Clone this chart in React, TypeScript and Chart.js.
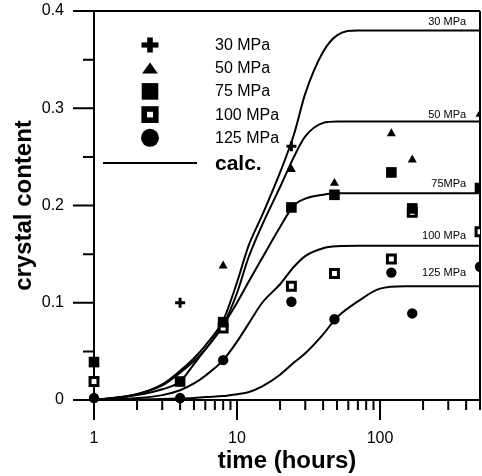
import React, { useEffect, useRef } from 'react';
import { Chart, registerables } from 'chart.js';

Chart.register(...registerables);

const FONT = '"Liberation Sans", Arial, Helvetica, sans-serif';

// ---- calculated curves (time in hours, crystal content) ----
const curveTimes = [1, 2, 3, 4, 5, 6, 8, 10, 12, 15, 20, 25, 30, 40, 50, 70, 100, 150, 200, 300, 500];
const calc30 = [0, 0.006, 0.016, 0.03, 0.043, 0.056, 0.082, 0.121, 0.158, 0.19, 0.234, 0.273, 0.315, 0.358, 0.375, 0.38, 0.38, 0.38, 0.38, 0.38, 0.38];
const calc50 = [0, 0.006, 0.015, 0.028, 0.04, 0.052, 0.077, 0.11, 0.146, 0.18, 0.219, 0.25, 0.271, 0.285, 0.2865, 0.2865, 0.2865, 0.2865, 0.2865, 0.2865, 0.2865];
const calc75 = [0, 0.005, 0.011, 0.019, 0.037, 0.052, 0.077, 0.1, 0.121, 0.146, 0.178, 0.2, 0.207, 0.211, 0.2125, 0.2125, 0.2125, 0.2125, 0.2125, 0.2125, 0.2125];
const calc100 = [0, 0.002, 0.005, 0.01, 0.017, 0.025, 0.041, 0.06, 0.078, 0.1, 0.119, 0.137, 0.148, 0.156, 0.158, 0.1585, 0.1585, 0.1585, 0.1585, 0.1585, 0.1585];
const calc125 = [0, 0.0005, 0.001, 0.0015, 0.002, 0.003, 0.004, 0.006, 0.008, 0.014, 0.026, 0.0385, 0.048, 0.0675, 0.085, 0.1014, 0.1145, 0.117, 0.117, 0.117, 0.117];

const curveLabels = ['30 MPa', '50 MPa', '75MPa', '100 MPa', '125 MPa'];
const curveLabelValues = [0.389, 0.293, 0.222, 0.169, 0.131];
const curveLabelTime = 400;

// ---- measured points ----
const t30 = [4, 24];
const v30 = [0.1, 0.261];
const t50 = [1, 8, 24, 48, 120, 168, 500];
const v50 = [0.004, 0.138, 0.237, 0.223, 0.274, 0.247, 0.294];
const t75 = [1, 4, 8, 24, 48, 120, 168, 500];
const v75 = [0.039, 0.019, 0.08, 0.198, 0.211, 0.234, 0.197, 0.218];
const t100 = [1, 8, 24, 48, 120, 168, 500];
const v100 = [0.019, 0.074, 0.117, 0.13, 0.145, 0.193, 0.173];
const t125 = [1, 4, 8, 24, 48, 120, 168, 500];
const v125 = [0.002, 0.002, 0.041, 0.101, 0.083, 0.131, 0.089, 0.137];

const legendNames = ['30 MPa', '50 MPa', '75 MPa', '100 MPa', '125 MPa'];
const legendCalc = 'calc.';

// ---- axes ----
const xMin = 1;
const xMax = 500;
const yMin = 0;
const yMax = 0.4;
const xLabelTicks = [1, 10, 100];
const xMajorTicks = [1, 10, 100];
const xMinorTicks = [2, 3, 4, 5, 6, 7, 8, 9, 20, 30, 40, 50, 60, 70, 80, 90, 200, 300, 400, 500];
const yMajorTicks = [0, 0.1, 0.2, 0.3, 0.4];
const yMinorTicks = [0.05, 0.15, 0.25, 0.35];
const xTitle = 'time (hours)';
const yTitle = 'crystal content';

const zip = (xs: number[], ys: number[]) => xs.map((x, i) => ({ x, y: ys[i] }));

function drawMarker(ctx: CanvasRenderingContext2D, kind: string, cx: number, cy: number) {
  ctx.save();
  ctx.fillStyle = '#000';
  if (kind === 'plus') {
    ctx.fillRect(cx - 8.5, cy - 2.6, 17, 5.2);
    ctx.fillRect(cx - 2.8, cy - 7.5, 5.6, 15);
  } else if (kind === 'triangle') {
    ctx.beginPath();
    ctx.moveTo(cx - 7.9, cy + 5.3);
    ctx.lineTo(cx + 7.9, cy + 5.3);
    ctx.lineTo(cx, cy - 5.6);
    ctx.closePath();
    ctx.fill();
  } else if (kind === 'square') {
    ctx.fillRect(cx - 8.3, cy - 8.3, 16.6, 16.6);
  } else if (kind === 'open') {
    ctx.fillRect(cx - 8.6, cy - 8.4, 17.2, 16.8);
    ctx.fillStyle = '#fff';
    ctx.fillRect(cx - 3, cy - 2.8, 6, 5.6);
  } else if (kind === 'circle') {
    ctx.beginPath();
    ctx.arc(cx, cy, 9, 0, Math.PI * 2);
    ctx.fill();
  }
  ctx.restore();
}

const overlay = {
  id: 'overlay',
  beforeDatasetsDraw(chart: any) {
    const { ctx, chartArea } = chart;
    const { left, right, top, bottom } = chartArea;
    const xs = chart.scales.x;
    const ys = chart.scales.y;
    ctx.save();
    ctx.strokeStyle = '#000';
    ctx.lineWidth = 2;
    ctx.lineCap = 'butt';
    ctx.beginPath();
    // frame
    ctx.moveTo(left, top);
    ctx.lineTo(left, bottom + 20);
    ctx.moveTo(left - 21, bottom);
    ctx.lineTo(right, bottom);
    ctx.moveTo(left, top);
    ctx.lineTo(right, top);
    ctx.moveTo(right, top);
    ctx.lineTo(right, bottom + 10);
    // y ticks
    yMajorTicks.forEach((v) => {
      const y = ys.getPixelForValue(v);
      ctx.moveTo(left - 21, y);
      ctx.lineTo(left, y);
    });
    yMinorTicks.forEach((v) => {
      const y = ys.getPixelForValue(v);
      ctx.moveTo(left - 11, y);
      ctx.lineTo(left, y);
    });
    // x ticks
    xMajorTicks.forEach((v) => {
      const x = xs.getPixelForValue(v);
      ctx.moveTo(x, bottom);
      ctx.lineTo(x, bottom + 20);
    });
    xMinorTicks.forEach((v) => {
      const x = Math.min(xs.getPixelForValue(v), right);
      ctx.moveTo(x, bottom);
      ctx.lineTo(x, bottom + 10);
    });
    ctx.stroke();
    ctx.restore();
  },
  afterDatasetsDraw(chart: any) {
    const { ctx, chartArea } = chart;
    const { left, top } = chartArea;
    const xs = chart.scales.x;
    const ys = chart.scales.y;
    ctx.save();
    // curve labels
    ctx.fillStyle = '#000';
    ctx.font = `11px ${FONT}`;
    ctx.textAlign = 'right';
    ctx.textBaseline = 'middle';
    curveLabels.forEach((lab, i) => {
      ctx.fillText(lab, xs.getPixelForValue(curveLabelTime), ys.getPixelForValue(curveLabelValues[i]));
    });
    // legend
    const kinds = ['plus', 'triangle', 'square', 'open', 'circle'];
    const mx = left + 56;
    const tx = left + 121;
    const y0 = top + 34;
    const dy = 23.2;
    ctx.textAlign = 'left';
    ctx.font = `16px ${FONT}`;
    kinds.forEach((k, i) => {
      const y = y0 + i * dy;
      drawMarker(ctx, k, mx, y);
      ctx.fillStyle = '#000';
      ctx.fillText(legendNames[i], tx, y + 0.5);
    });
    const cy = top + 152;
    ctx.strokeStyle = '#000';
    ctx.lineWidth = 2;
    ctx.beginPath();
    ctx.moveTo(left + 9, cy);
    ctx.lineTo(left + 103, cy);
    ctx.stroke();
    ctx.font = `bold 21px ${FONT}`;
    ctx.fillText(legendCalc, tx, cy + 1);
    ctx.restore();
  },
};

const pointClip = { left: false, top: false, bottom: false, right: 0 } as any;
const hiddenGrid = { display: true, drawOnChartArea: false, drawTicks: true, tickLength: 30, color: 'rgba(0,0,0,0)' };

export default function App() {
  const canvasRef = useRef<HTMLCanvasElement | null>(null);

  useEffect(() => {
    document.body.style.margin = '0';
    const canvas = canvasRef.current;
    if (!canvas) return;

    const curve = (vals: number[]) => ({
      type: 'line' as const,
      data: zip(curveTimes, vals),
      borderColor: '#000',
      borderWidth: 2,
      pointRadius: 0,
      fill: false,
      cubicInterpolationMode: 'monotone' as const,
      order: 10,
    });
    const pts = (xs: number[], ys: number[], style: string, radius: number, bg: string, bw: number, order: number) => ({
      type: 'line' as const,
      data: zip(xs, ys),
      showLine: false,
      pointStyle: style,
      pointRadius: radius,
      pointBackgroundColor: bg,
      pointBorderColor: '#000',
      pointBorderWidth: bw,
      clip: pointClip,
      order,
    });

    const chart = new Chart(canvas, {
      type: 'line',
      data: {
        datasets: [
          curve(calc30),
          curve(calc50),
          curve(calc75),
          curve(calc100),
          curve(calc125),
          pts(t100, v100, 'rect', 5.6, '#fff', 3, 5),
          pts(t125, v125, 'circle', 5.2, '#000', 0, 4),
          pts(t50, v50, 'triangle', 5.2, '#000', 0, 3),
          pts(t75, v75, 'rect', 7.5, '#000', 0, 2),
          pts(t30, v30, 'cross', 5, '#000', 3, 1),
        ] as any,
      },
      options: {
        responsive: false,
        animation: false,
        events: [],
        layout: { autoPadding: false, padding: { left: 0, right: 2, top: 11, bottom: 0 } },
        plugins: {
          legend: { display: false },
          tooltip: { enabled: false },
        },
        scales: {
          x: {
            type: 'logarithmic',
            min: xMin,
            max: xMax,
            grid: { ...hiddenGrid, tickLength: 29 },
            border: { display: false },
            ticks: {
              autoSkip: false,
              maxRotation: 0,
              padding: 0,
              color: '#000',
              font: { size: 16, family: FONT },
              callback: (v: any) => (xLabelTicks.includes(Number(v)) ? String(v) : ''),
            },
            title: {
              display: true,
              text: xTitle,
              color: '#000',
              font: { size: 24, weight: 'bold', family: FONT },
              padding: { top: 0, bottom: 0 },
            },
            afterFit: (s: any) => {
              s.height = 76;
              s.paddingLeft = 0;
              s.paddingRight = 0;
            },
          },
          y: {
            type: 'linear',
            min: yMin,
            max: yMax,
            grid: { ...hiddenGrid, tickLength: 30 },
            border: { display: false },
            ticks: {
              stepSize: 0.1,
              padding: 0,
              color: '#000',
              font: { size: 16, family: FONT },
              callback: (v: any) => String(Number(Number(v).toFixed(2))),
            },
            title: {
              display: true,
              text: yTitle,
              color: '#000',
              font: { size: 24, weight: 'bold', family: FONT },
              padding: { top: 10, bottom: 0 },
            },
            afterFit: (s: any) => {
              s.width = 94;
              s.paddingTop = 0;
              s.paddingBottom = 0;
            },
          },
        },
      } as any,
      plugins: [overlay],
    });

    return () => chart.destroy();
  }, []);

  return (
    <div style={{ width: 482, height: 476 }}>
      <canvas ref={canvasRef} width={482} height={476} style={{ display: 'block' }} />
    </div>
  );
}
